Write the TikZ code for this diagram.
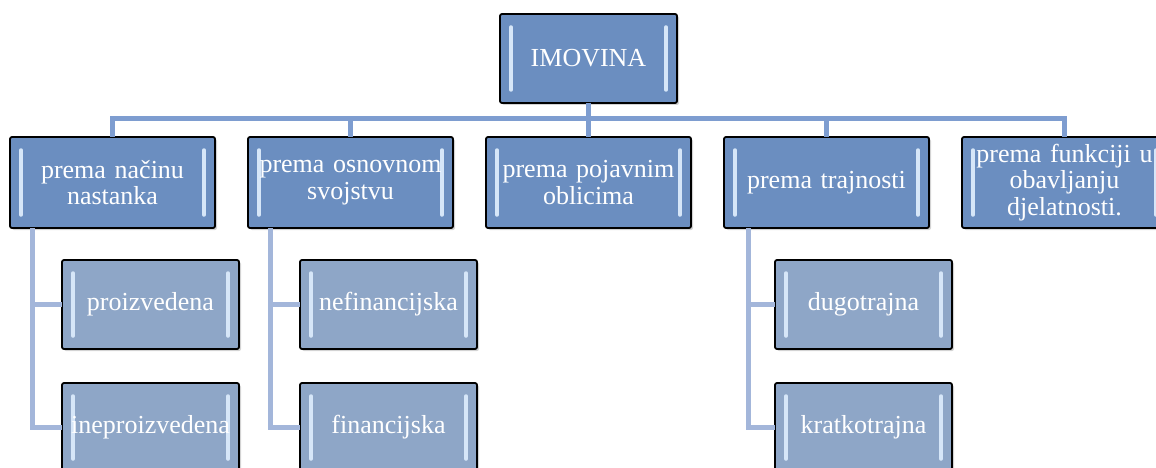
\documentclass[tikz,border=0pt]{standalone}
\usepackage{fontspec}
\setmainfont{Liberation Serif}
\usepackage{tikz}
\usetikzlibrary{positioning}
\usetikzlibrary{shadows}
\definecolor{topfill}{HTML}{6B8EC0}
\definecolor{subfill}{HTML}{8EA6C7}
\definecolor{hilite}{HTML}{D6E6F8}
\definecolor{linkone}{HTML}{7E9DD0}
\definecolor{linktwo}{HTML}{A3B6DA}
\tikzset{
    bevel/.style={
        path picture={
            \draw[hilite, line width=3.5pt, line cap=round]
                ([xshift=11pt,yshift=-13pt]path picture bounding box.north west) --
                ([xshift=11pt,yshift=13pt]path picture bounding box.south west);
            \draw[hilite, line width=3.5pt, line cap=round]
                ([xshift=-11pt,yshift=-13pt]path picture bounding box.north east) --
                ([xshift=-11pt,yshift=13pt]path picture bounding box.south east);
        }
    }
}

\begin{document}
\begin{tikzpicture}[x=1pt, y=-1pt,
                    node distance=33pt,
                    box/.style={rectangle, draw=black, line width=1.8pt, rounded corners=2pt,
                                outer sep=0pt, inner sep=0pt, align=center, text=white,
                                font=\fontsize{26}{26.5}\selectfont, bevel,
                                drop shadow={shadow xshift=2pt, shadow yshift=-2pt, opacity=0.35}},
                    topbox/.style={box, fill=topfill, minimum width=177pt, minimum height=89pt},
                    catbox/.style={box, fill=topfill, minimum width=205pt, minimum height=91pt, text width=205pt},
                    subbox/.style={box, fill=subfill, minimum width=177pt, minimum height=89pt},
                    linka/.style={linkone, line width=5pt},
                    linkb/.style={linktwo, line width=5pt}
                    ]
  \useasboundingbox (0,0) rectangle (1156,468);
  \coordinate (bus) at (0,119);
  \node[topbox] (0) at (588.5,58.5) {IMOVINA};
  \node[catbox] (1) at (112.5,182.5) {prema načinu\\nastanka};
  \node[catbox] (2) [right=of 1] {prema osnovnom\\svojstvu};
  \node[catbox] (3) [right=of 2] {prema pojavnim\\oblicima};
  \node[catbox] (4) [right=of 3] {prema trajnosti};
  \node[catbox] (5) [right=of 4] {prema funkciji u\\obavljanju\\djelatnosti.};
  \node[subbox] (11) [below right=32pt and 52pt of 1.south west] {proizvedena};
  \node[subbox] (12) [below=34pt of 11] {ineproizvedena};
  \node[subbox] (21) [below right=32pt and 52pt of 2.south west] {nefinancijska};
  \node[subbox] (22) [below=34pt of 21] {financijska};
  \node[subbox] (41) [below right=32pt and 51pt of 4.south west] {dugotrajna};
  \node[subbox] (42) [below=34pt of 41] {kratkotrajna};

  % bus from the top box to the five groups
  \foreach \n in {1,...,5}
    \draw[linka] (0.south) -- (0.south |- bus) -| (\n.north);
  % side rails to the children
  \foreach \p/\d in {1/22pt, 2/22pt, 4/24pt} {
    \draw[linkb] ([xshift=\d]\p.south west) |- (\p2.west);
    \draw[linkb] ([xshift=\d]\p.south west |- \p1.west) -- (\p1.west);
  }
\end{tikzpicture}
\end{document}
